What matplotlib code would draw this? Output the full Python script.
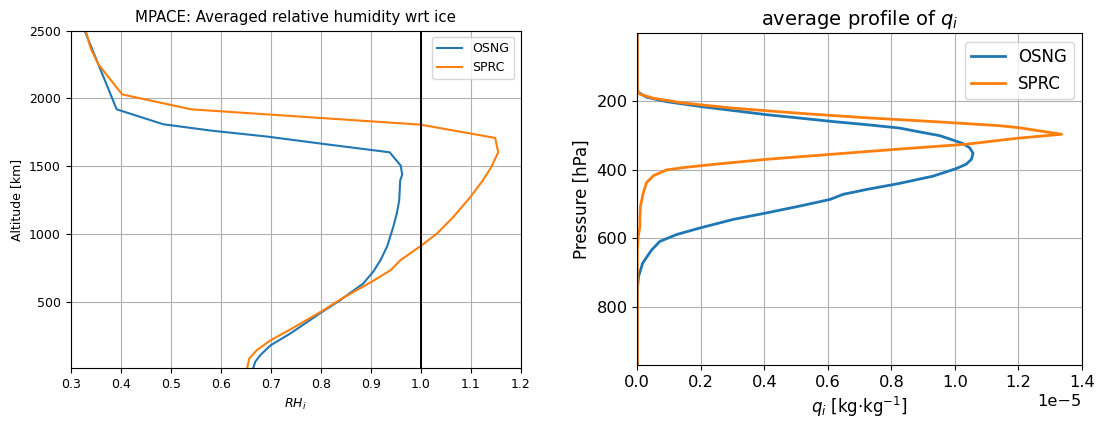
import numpy as np
import matplotlib
matplotlib.use("Agg")
import matplotlib.pyplot as plt

# ---- Left panel data: averaged relative humidity wrt ice ----
osng_rh = [0.328, 0.392, 0.485, 0.581, 0.693, 0.805, 0.938, 0.960, 0.963, 0.959,
           0.957, 0.952, 0.945, 0.933, 0.920, 0.905, 0.885, 0.839, 0.800, 0.739,
           0.700, 0.679, 0.669, 0.665]
osng_alt = [2500, 1920, 1810, 1763, 1719, 1665, 1603, 1505, 1440, 1394,
            1247, 1149, 1051, 910, 810, 722, 635, 512, 419, 266,
            180, 106, 57, 10]

sprc_rh = [0.330, 0.340, 0.355, 0.403, 0.541, 1.000, 1.149, 1.155, 1.141, 1.124,
           1.099, 1.065, 1.032, 1.000, 0.959, 0.940, 0.905, 0.839, 0.800, 0.739,
           0.700, 0.672, 0.657, 0.653]
sprc_alt = [2500, 2370, 2254, 2030, 1920, 1807, 1709, 1603, 1493, 1394,
            1272, 1125, 1002, 912, 806, 734, 655, 517, 426, 296,
            217, 143, 81, 10]

# ---- Right panel data: average profile of q_i (units of 1e-5 kg/kg) ----
osng_p = [3, 165, 175, 189, 202, 216, 228, 240, 250, 260, 269, 279, 292, 301, 314,
          324, 336, 352, 370, 384, 397, 419, 440, 458, 472, 487, 506, 526, 545,
          570, 589, 609, 634, 672, 711, 750, 969]
osng_q = [0, 0, 0.003, 0.029, 0.092, 0.197, 0.302, 0.407, 0.512, 0.616, 0.721,
          0.826, 0.899, 0.952, 0.994, 1.025, 1.046, 1.057, 1.052, 1.036, 1.004,
          0.931, 0.826, 0.721, 0.648, 0.606, 0.512, 0.407, 0.302, 0.197, 0.124,
          0.071, 0.045, 0.017, 0.004, 0, 0]

sprc_p = [3, 173, 180, 192, 206, 221, 236, 249, 260, 272, 278, 297, 309, 326, 340,
          355, 370, 384, 394, 401, 418, 438, 467, 506, 545, 566, 595, 634, 969]
sprc_q = [0, 0, 0.008, 0.050, 0.145, 0.302, 0.512, 0.721, 0.931, 1.140, 1.202,
          1.336, 1.193, 1.036, 0.826, 0.616, 0.407, 0.249, 0.145, 0.092, 0.050,
          0.029, 0.019, 0.010, 0.008, 0.008, 0.003, 0, 0]

scale = 1e-5

fig = plt.figure(figsize=(10.99, 4.21), dpi=100)

# Left axes
ax1 = fig.add_axes([0.0643, 0.1252, 0.4095, 0.8019])
ax1.plot(osng_rh, osng_alt, color="#1f77b4", lw=1.5, label="OSNG")
ax1.plot(sprc_rh, sprc_alt, color="#ff7f0e", lw=1.5, label="SPRC")
ax1.axvline(1.0, color="k", lw=1.4)
ax1.set_xlim(0.3, 1.2)
ax1.set_ylim(10, 2500)
ax1.set_yticks([500, 1000, 1500, 2000, 2500])
ax1.grid(True)
ax1.tick_params(labelsize=9)
ax1.set_xlabel("$RH_i$", fontsize=9)
ax1.set_ylabel("Altitude [km]", fontsize=9)
ax1.set_title("MPACE: Averaged relative humidity wrt ice", fontsize=10.8)
ax1.legend(loc="upper right", fontsize=9)

# Right axes
ax2 = fig.add_axes([0.5799, 0.1330, 0.4046, 0.7879])
ax2.plot(np.array(osng_q) * scale, osng_p, color="#1f77b4", lw=2.0, label="OSNG")
ax2.plot(np.array(sprc_q) * scale, sprc_p, color="#ff7f0e", lw=2.0, label="SPRC")
ax2.set_xlim(0, 1.4e-5)
ax2.set_ylim(969, 3)
ax2.set_yticks([200, 400, 600, 800])
ax2.grid(True)
ax2.tick_params(labelsize=11.7)
ax2.xaxis.get_offset_text().set_fontsize(11.7)
ax2.set_xlabel(r"$q_i$ [kg$\cdot$kg$^{-1}$]", fontsize=12)
ax2.set_ylabel("Pressure [hPa]", fontsize=12)
ax2.set_title("average profile of $q_i$", fontsize=14)
ax2.legend(loc="upper right", fontsize=12)

fig.savefig("out.png", dpi=100)
